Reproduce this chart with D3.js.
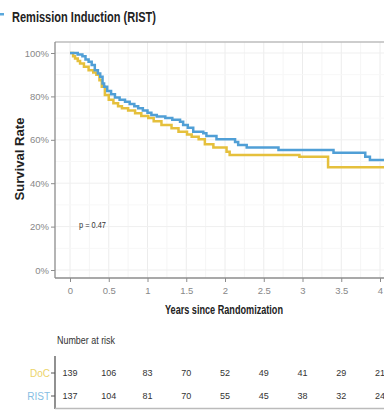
<!DOCTYPE html>
<html><head><meta charset="utf-8">
<script src="https://cdn.jsdelivr.net/npm/d3@7"></script>
<style>
body{margin:0;background:#fff;}
svg{display:block;}
text{font-family:"Liberation Sans",Arial,sans-serif;}
</style></head>
<body><svg id="c" width="384" height="410"></svg>
<script>
const title = "Remission Induction (RIST)";
const xTicks = [0, 0.5, 1, 1.5, 2, 2.5, 3, 3.5, 4];
const yTicks = [0, 0.2, 0.4, 0.6, 0.8, 1.0];
const groups = ["DoC", "RIST"];
const colors = ["#e5c03c", "#509fd6"];
const labelColors = ["#ecd46a", "#86bde3"];
// step times / survival (Kaplan-Meier)
const docTimes = [0,0.04,0.065,0.10,0.13,0.18,0.24,0.30,0.34,0.38,0.41,0.45,0.50,0.56,0.62,0.67,0.75,0.84,0.92,1.01,1.08,1.18,1.31,1.40,1.51,1.57,1.66,1.74,1.85,2.02,2.06,2.96,3.33];
const docSurv  = [1,0.985,0.975,0.963,0.952,0.937,0.92,0.91,0.90,0.875,0.845,0.806,0.785,0.768,0.755,0.745,0.735,0.722,0.71,0.70,0.685,0.668,0.653,0.637,0.625,0.614,0.602,0.58,0.564,0.545,0.53,0.522,0.473];
const ristTimes = [0,0.10,0.16,0.20,0.24,0.28,0.32,0.36,0.39,0.42,0.44,0.48,0.53,0.58,0.64,0.71,0.77,0.83,0.88,0.94,1.00,1.05,1.12,1.23,1.32,1.42,1.46,1.52,1.59,1.72,1.76,1.89,2.13,2.17,2.28,2.69,3.40,3.81,3.87];
const ristSurv  = [1,0.993,0.985,0.97,0.96,0.945,0.92,0.905,0.89,0.86,0.845,0.825,0.81,0.795,0.785,0.775,0.765,0.755,0.745,0.735,0.725,0.714,0.707,0.70,0.692,0.683,0.668,0.655,0.637,0.63,0.617,0.603,0.59,0.576,0.564,0.553,0.54,0.522,0.507];
const endTime = 4.3;
const pText = "p = 0.47";
const riskLabel = "Number at risk";
const riskDoC  = [139,106,83,70,52,49,41,29,21];
const riskRIST = [137,104,81,70,55,45,38,32,24];

const svg = d3.select("#c");
const x = d3.scaleLinear().domain([0,4]).range([70,380]);
const y = d3.scaleLinear().domain([0,1]).range([270,53]);
const panelL = 55, panelT = 42, panelB = 278, W = 384;

// title
svg.append("rect").attr("x",0).attr("y",13).attr("width",4).attr("height",2.5).attr("fill","#5aa8dc");
svg.append("text").attr("x",12).attr("y",21.5).attr("font-size",15.5).attr("font-weight","bold").attr("fill","#222")
  .attr("textLength",144).attr("lengthAdjust","spacingAndGlyphs").text(title);

// grid
const g = svg.append("g");
const minorX = d3.range(0,4.3,0.25);
g.selectAll(".gx").data(minorX).join("line")
  .attr("x1",d=>x(d)).attr("x2",d=>x(d)).attr("y1",panelT).attr("y2",panelB)
  .attr("stroke",(d,i)=>i%2===0?"#ececec":"#f5f5f5").attr("stroke-width",1);
g.selectAll(".gy").data(d3.range(0,1.01,0.1)).join("line")
  .attr("x1",panelL).attr("x2",W).attr("y1",d=>y(d)).attr("y2",d=>y(d))
  .attr("stroke",(d,i)=>i%2===0?"#efefef":"#f7f7f7").attr("stroke-width",1);

// panel border top
svg.append("line").attr("x1",panelL).attr("x2",W).attr("y1",panelT).attr("y2",panelT).attr("stroke","#bdbdbd").attr("stroke-width",1.5);

// curves
const line = d3.line().x(d=>x(d[0])).y(d=>y(d[1])).curve(d3.curveStepAfter);
function pts(t,s){const a=t.map((v,i)=>[v,s[i]]);a.push([endTime,s[s.length-1]]);return a;}
svg.append("path").datum(pts(docTimes,docSurv)).attr("d",line).attr("fill","none").attr("stroke",colors[0]).attr("stroke-width",2.5);
svg.append("path").datum(pts(ristTimes,ristSurv)).attr("d",line).attr("fill","none").attr("stroke",colors[1]).attr("stroke-width",2.5);

// axes
const yAxis = d3.axisLeft(y).tickValues(yTicks).tickFormat(d3.format(".0%")).tickSize(4).tickPadding(2);
const ya = svg.append("g").attr("transform",`translate(${panelL},0)`).call(yAxis);
ya.select(".domain").attr("d",`M0,${panelT}V${panelB}`);
const xAxis = d3.axisBottom(x).tickValues(xTicks).tickFormat(d=>String(d)).tickSize(4).tickPadding(5);
const xa = svg.append("g").attr("transform",`translate(0,${panelB})`).call(xAxis);
xa.select(".domain").attr("d",`M${panelL},0H${W}`);
[ya,xa].forEach(a=>{
  a.selectAll(".domain").attr("stroke","#8c8c8c").attr("stroke-width",1.3);
  a.selectAll(".tick line").attr("stroke","#8c8c8c");
  a.selectAll("text").attr("fill","#888").attr("font-size",9.5).attr("font-family",'"Liberation Sans",sans-serif');
});

// axis titles
svg.append("text").attr("x",224).attr("y",314).attr("text-anchor","middle").attr("font-size",12).attr("font-weight","bold").attr("fill","#222")
  .attr("textLength",118).attr("lengthAdjust","spacingAndGlyphs").text("Years since Randomization");
svg.append("text").attr("transform","translate(24,159) rotate(-90)").attr("text-anchor","middle").attr("font-size",12).attr("font-weight","bold").attr("fill","#222")
  .attr("textLength",83).attr("lengthAdjust","spacingAndGlyphs").text("Survival Rate");

// p value
svg.append("text").attr("x",79).attr("y",228).attr("font-size",8.5).attr("fill","#333")
  .attr("textLength",27).attr("lengthAdjust","spacingAndGlyphs").text(pText);

// risk table
svg.append("text").attr("x",57).attr("y",344).attr("font-size",10).attr("fill","#333")
  .attr("textLength",58).attr("lengthAdjust","spacingAndGlyphs").text(riskLabel);
const rowY = [373, 396];
svg.append("line").attr("x1",55).attr("x2",55).attr("y1",356).attr("y2",409).attr("stroke","#555").attr("stroke-width",1.3);
svg.append("line").attr("x1",55).attr("x2",W).attr("y1",408.5).attr("y2",408.5).attr("stroke","#bbb").attr("stroke-width",1.3);
const rows = [riskDoC, riskRIST];
rows.forEach((r,ri)=>{
  svg.append("line").attr("x1",51).attr("x2",55).attr("y1",rowY[ri]).attr("y2",rowY[ri]).attr("stroke","#555");
  svg.append("text").attr("x",50).attr("y",rowY[ri]).attr("dy","0.35em").attr("text-anchor","end").attr("font-size",10).attr("fill",labelColors[ri]).text(groups[ri]);
  svg.selectAll(null).data(r).join("text")
    .attr("x",(d,i)=>x(xTicks[i])).attr("y",rowY[ri]).attr("dy","0.35em").attr("text-anchor","middle")
    .attr("font-size",9).attr("fill","#333").text(d=>d);
});
</script></body></html>
